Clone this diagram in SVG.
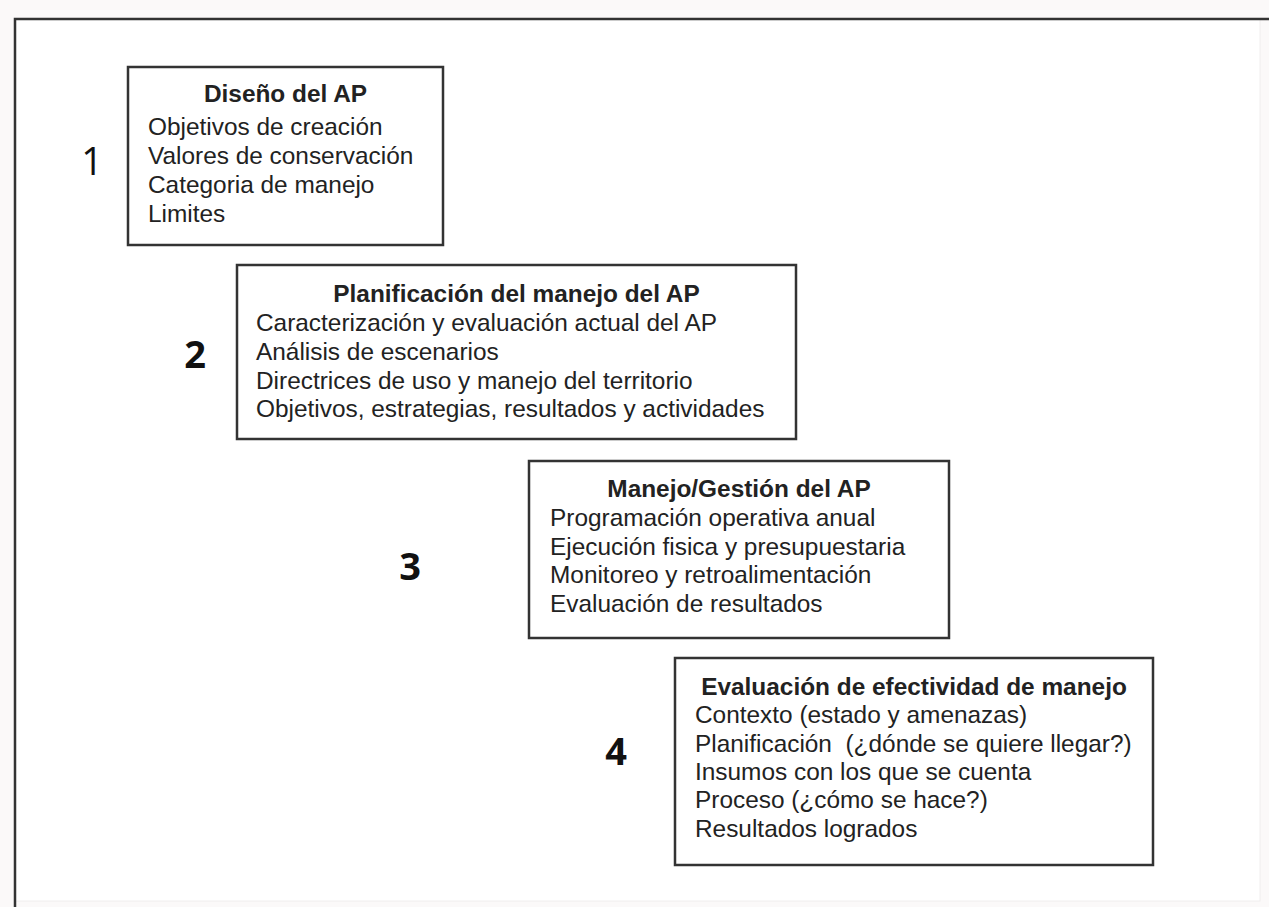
<svg xmlns="http://www.w3.org/2000/svg" width="1269" height="907" viewBox="0 0 1269 907">
<style>
.box{fill:#ffffff;stroke:#333333;stroke-width:2.5}
.t{font-family:"Liberation Sans",Arial,Helvetica,sans-serif;font-size:24.4px;fill:#222222}
.h{font-weight:bold;text-anchor:middle}
.n{font-family:"Open Sans","Liberation Sans",sans-serif;font-size:38px;fill:#111111;text-anchor:middle}
.frame{stroke:#333333;stroke-width:2.5;fill:none}
</style>
<rect x="0" y="0" width="1269" height="907" fill="#fbf9f9"/>
<rect x="15" y="19" width="1245" height="882" fill="#ffffff" stroke="#f0eeee" stroke-width="1"/>
<g id="frame">
<path class="frame" d="M15,907 V19 H1269"/>
</g>
<g id="connectors"></g>
<g id="node1">
<text class="n" x="92" y="175" font-weight="500">1</text>
<rect class="box" x="128" y="67" width="315" height="178"/>
<text class="t h" x="285.5" y="102">Diseño del AP</text>
<text class="t" x="148" y="135">Objetivos de creación</text>
<text class="t" x="148" y="164">Valores de conservación</text>
<text class="t" x="148" y="193">Categoria de manejo</text>
<text class="t" x="148" y="222">Limites</text>
</g>
<g id="node2">
<text class="n" x="195" y="368" font-weight="bold">2</text>
<rect class="box" x="237" y="265" width="559" height="174"/>
<text class="t h" x="516.5" y="302">Planificación del manejo del AP</text>
<text class="t" x="256" y="331">Caracterización y evaluación actual del AP</text>
<text class="t" x="256" y="360">Análisis de escenarios</text>
<text class="t" x="256" y="389">Directrices de uso y manejo del territorio</text>
<text class="t" x="256" y="417">Objetivos, estrategias, resultados y actividades</text>
</g>
<g id="node3">
<text class="n" x="410" y="580" font-weight="bold">3</text>
<rect class="box" x="529" y="461" width="420" height="177"/>
<text class="t h" x="739" y="497">Manejo/Gestión del AP</text>
<text class="t" x="550" y="526">Programación operativa anual</text>
<text class="t" x="550" y="555">Ejecución fisica y presupuestaria</text>
<text class="t" x="550" y="583">Monitoreo y retroalimentación</text>
<text class="t" x="550" y="612">Evaluación de resultados</text>
</g>
<g id="node4">
<text class="n" x="616" y="765" font-weight="bold">4</text>
<rect class="box" x="675" y="658" width="478" height="207"/>
<text class="t h" x="914" y="695">Evaluación de efectividad de manejo</text>
<text class="t" x="695" y="723">Contexto (estado y amenazas)</text>
<text class="t" x="695" y="752" xml:space="preserve">Planificación  (¿dónde se quiere llegar?)</text>
<text class="t" x="695" y="780">Insumos con los que se cuenta</text>
<text class="t" x="695" y="808">Proceso (¿cómo se hace?)</text>
<text class="t" x="695" y="837">Resultados logrados</text>
</g>
</svg>
